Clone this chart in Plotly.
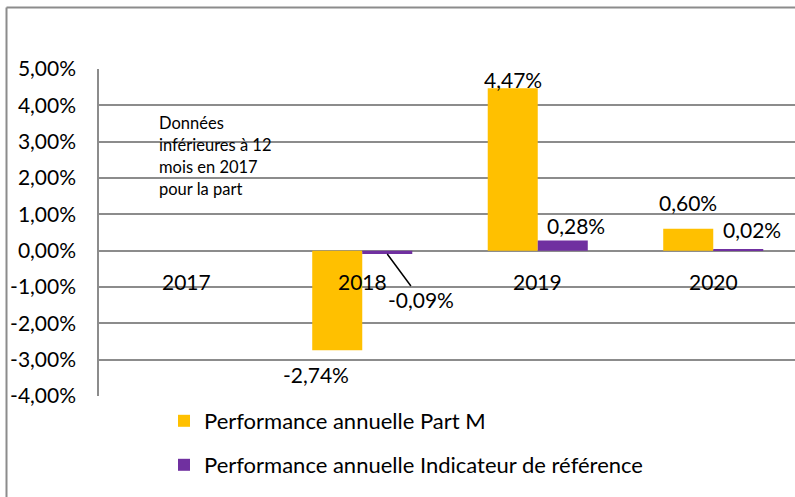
import plotly.graph_objects as go

# ---- data ----
categories = ["2017", "2018", "2019", "2020"]
part_m = [None, -2.74, 4.47, 0.60]
indicateur = [None, -0.09, 0.28, 0.02]
part_m_labels = ["", "-2,74%", "4,47%", "0,60%"]
indic_labels = ["", "-0,09%", "0,28%", "0,02%"]
series_names = ["Performance annuelle Part M",
                "Performance annuelle Indicateur de référence"]
tick_values = [5, 4, 3, 2, 1, 0, -1, -2, -3, -4]
tick_labels = ["5,00%", "4,00%", "3,00%", "2,00%", "1,00%", "0,00%",
               "-1,00%", "-2,00%", "-3,00%", "-4,00%"]
note_lines = ["Données", "inférieures à 12", "mois en 2017", "pour la part"]

YELLOW = "#FFC000"
PURPLE = "#7030A0"
GRID = "#8c8c8c"
FONT = "Lato"

W, H = 795, 497
ML, MT, MB, MR = 99, 69, 101, 0
PW = W - ML - MR
PH = H - MT - MB

def px_x(px):
    return (px - ML) / PW

def px_y(py):
    return (H - MB - py) / PH

fig = go.Figure()
fig.add_trace(go.Bar(x=categories, y=part_m, name=series_names[0],
                     marker=dict(color=YELLOW, line=dict(width=0)),
                     legend="legend"))
fig.add_trace(go.Bar(x=categories, y=indicateur, name=series_names[1],
                     marker=dict(color=PURPLE, line=dict(width=0)),
                     legend="legend2"))

LABEL_FONT = dict(family=FONT, size=21, color="black")
annotations = []
# category labels placed at the zero line
for i, c in enumerate(categories):
    annotations.append(dict(x=i, y=0, xref="x", yref="y", text=c,
                            showarrow=False, yshift=-31, font=LABEL_FONT))

# data labels
half = 25  # pixel offset of each bar from the category centre
lab_off_m = {1: (-21, -24), 2: (0, 9), 3: (0, 26)}
for i, (v, t) in enumerate(zip(part_m, part_m_labels)):
    if v is None:
        continue
    dx, dy = lab_off_m[i]
    annotations.append(dict(x=i, y=v, xref="x", yref="y", text=t,
                            showarrow=False, xshift=-half + dx, yshift=dy,
                            font=LABEL_FONT))
lab_off_i = {2: (13, 15), 3: (14, 20)}
for i, (v, t) in enumerate(zip(indicateur, indic_labels)):
    if v is None:
        continue
    if i == 1:
        annotations.append(dict(x=i, y=v, xref="x", yref="y", text=t,
                                showarrow=True, arrowhead=0, arrowwidth=1.5,
                                arrowcolor="black", ax=34, ay=46,
                                xshift=half, font=LABEL_FONT))
        continue
    dx, dy = lab_off_i[i]
    annotations.append(dict(x=i, y=v, xref="x", yref="y", text=t,
                            showarrow=False, xshift=half + dx, yshift=dy,
                            font=LABEL_FONT))

# note text box
note_y = [123, 145, 167, 189]
for line, py in zip(note_lines, note_y):
    annotations.append(dict(x=px_x(157), y=px_y(py), xref="paper", yref="paper",
                            text=line, showarrow=False, xanchor="left",
                            yanchor="middle",
                            font=dict(family=FONT, size=16.5, color="black")))

shapes = [
    # white box behind the note
    dict(type="rect", xref="paper", yref="paper", layer="below",
         x0=px_x(137), x1=px_x(308), y0=px_y(206), y1=px_y(96),
         fillcolor="white", line=dict(width=0)),
    # outer chart border (left & top)
    dict(type="line", xref="paper", yref="paper",
         x0=px_x(6.5), x1=px_x(6.5), y0=px_y(7.5), y1=px_y(500),
         line=dict(color=GRID, width=2)),
    dict(type="line", xref="paper", yref="paper",
         x0=px_x(6.5), x1=px_x(800), y0=px_y(7.5), y1=px_y(7.5),
         line=dict(color=GRID, width=2)),
]

fig.update_layout(
    width=W, height=H,
    margin=dict(l=ML, r=MR, t=MT, b=MB, pad=0),
    paper_bgcolor="white", plot_bgcolor="white",
    barmode="group", bargap=0.43, bargroupgap=0,
    font=dict(family=FONT, size=20, color="black"),
    xaxis=dict(type="category", range=[-0.5, -0.5 + PW / 175.5],
               showticklabels=False, showgrid=False, zeroline=False,
               showline=False, ticks=""),
    yaxis=dict(range=[-4, 5], tickvals=tick_values, ticktext=tick_labels,
               showgrid=True, gridcolor=GRID, gridwidth=1.5,
               zeroline=True, zerolinecolor=GRID, zerolinewidth=1.5,
               showline=True, linecolor=GRID, linewidth=1.5,
               ticks="", ticklabelstandoff=17,
               tickfont=dict(family=FONT, size=21, color="black")),
    showlegend=True,
    legend=dict(x=px_x(164), y=px_y(421), xanchor="left", yanchor="middle",
                bgcolor="rgba(0,0,0,0)", borderwidth=0,
                font=dict(family=FONT, size=22, color="black")),
    legend2=dict(x=px_x(164), y=px_y(465), xanchor="left", yanchor="middle",
                 bgcolor="rgba(0,0,0,0)", borderwidth=0,
                 font=dict(family=FONT, size=22, color="black")),
    annotations=annotations,
    shapes=shapes,
)

fig.write_html("out.html",
               config={"displayModeBar": False},
               post_script="document.body.style.margin='0px';"
                           "document.body.style.overflow='hidden';")
